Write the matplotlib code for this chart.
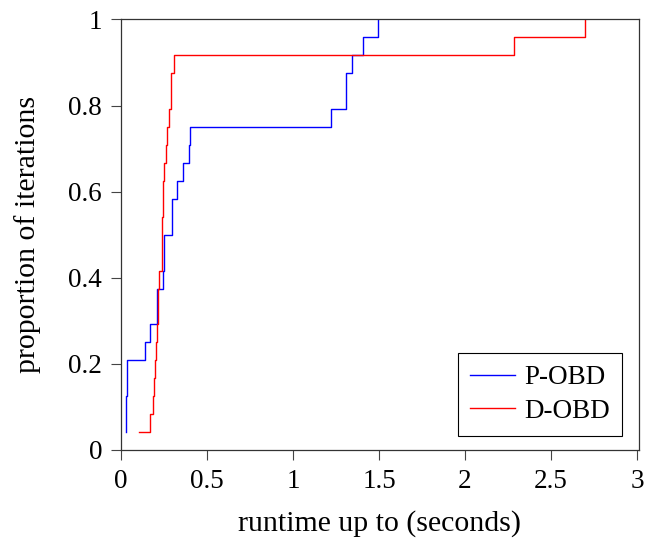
import numpy as np
import matplotlib
matplotlib.use('Agg')
import matplotlib.pyplot as plt

# sorted runtimes (seconds), 24 iterations each
p_obd = [0.027, 0.027, 0.030, 0.035, 0.037, 0.139, 0.168, 0.207, 0.207, 0.242,
         0.251, 0.252, 0.294, 0.294, 0.325, 0.360, 0.395, 0.402, 1.223, 1.306,
         1.310, 1.345, 1.409, 1.492]
d_obd = [0.105, 0.168, 0.184, 0.193, 0.199, 0.204, 0.209, 0.214, 0.218, 0.222,
         0.236, 0.240, 0.241, 0.243, 0.245, 0.250, 0.259, 0.268, 0.277, 0.290,
         0.290, 0.310, 2.285, 2.699]
labels = ['P-OBD', 'D-OBD']
colors = ['blue', 'red']

xticks = [0, 0.5, 1, 1.5, 2, 2.5, 3]
xtick_labels = ['0', '0.5', '1', '1.5', '2', '2.5', '3']
yticks = [0, 0.2, 0.4, 0.6, 0.8, 1]
ytick_labels = ['0', '0.2', '0.4', '0.6', '0.8', '1']

plt.rcParams['font.family'] = ['Liberation Serif', 'DejaVu Serif']

fig = plt.figure(figsize=(6.48, 5.4), dpi=100)
ax = fig.add_axes([0.1867, 0.1667, 0.7990, 0.7972])

for data, lab, col in zip([p_obd, d_obd], labels, colors):
    x = np.array(data)
    y = np.arange(1, len(x) + 1) / len(x)
    ax.plot(x, y, drawstyle='steps-post', color=col, lw=1.0, label=lab)

ax.set_xlim(0, 3.01)
ax.set_ylim(0, 1)
ax.set_xticks(xticks)
ax.set_xticklabels(xtick_labels)
ax.set_yticks(yticks)
ax.set_yticklabels(ytick_labels)
ax.tick_params(labelsize=19.5, length=7.5, width=0.8, color='#444444', pad=6)
for s in ax.spines.values():
    s.set_linewidth(0.9)
    s.set_color('#333333')

ax.set_xlabel('runtime up to (seconds)', fontsize=21.5, labelpad=12)
ax.set_ylabel('proportion of iterations', fontsize=21.5, labelpad=20)

leg = ax.legend(loc='lower right', fontsize=19.5, fancybox=False, framealpha=1,
                edgecolor='black', handlelength=1.65, borderpad=0.45,
                labelspacing=0.3, handletextpad=0.35, borderaxespad=0,
                bbox_to_anchor=(0.968, 0.033))
leg.get_frame().set_linewidth(0.8)

fig.savefig('out.png', dpi=100)
